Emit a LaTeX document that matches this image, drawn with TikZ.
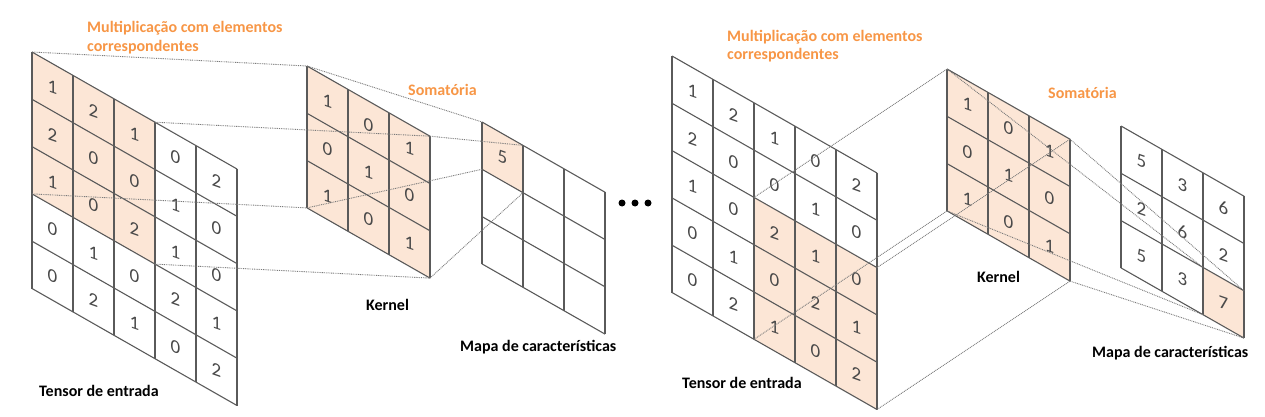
\documentclass[tikz,border=0pt]{standalone}
\usepackage{fontspec}
\setmainfont{Carlito}
\usetikzlibrary{calc}
\definecolor{hl}{HTML}{FCE6D6}
\definecolor{gridc}{HTML}{5A5A5A}
\definecolor{orangelab}{HTML}{F79646}
\definecolor{dotc}{HTML}{7A7A7A}
\definecolor{digc}{HTML}{4A4A4A}
\newcommand{\mkgrid}[4]{%
  \foreach \i in {0,...,#4}{%
    \foreach \j in {0,...,#4}{%
      \coordinate (#1-\i-\j) at ({#2+41*\j},{#3+23.4*\j+47.3*\i});
    }%
  }%
}
\newcommand{\drawgrid}[2]{%
  \foreach \i in {0,...,#2}{\draw[gridline] (#1-\i-0) -- (#1-\i-#2);}%
  \foreach \j in {0,...,#2}{\draw[gridline] (#1-0-\j) -- (#1-#2-\j);}%
}
\newcommand{\putrow}[3]{%
  \foreach \v [count=\jj from 0] in {#3}{%
    \pgfmathtruncatemacro\ia{#2+1}%
    \pgfmathtruncatemacro\ja{\jj+1}%
    \node[digit] (#1v-#2-\jj) at ($(#1-#2-\jj)!0.5!(#1-\ia-\ja)$) {\v};
  }%
}
\begin{document}
\begin{tikzpicture}[x=1pt,y=-1pt,
  gridline/.style={draw=gridc, line width=1.1pt},
  digit/.style={font=\fontsize{19}{19}\selectfont, text=digc, inner sep=0pt, yslant=-0.35, transform shape},
  lab/.style={font=\bfseries\fontsize{16}{16}\selectfont, anchor=west, inner sep=0pt},
  orlab/.style={lab, text=orangelab},
  con/.style={draw=dotc, line width=0.9pt, dash pattern=on 0.9pt off 0.9pt},
  dotmark/.style={circle, fill=black, inner sep=0pt, minimum size=7pt}]
\useasboundingbox (0,0) rectangle (1265,417);
% grids coordinates
\mkgrid{tL}{32}{52}{5}
\mkgrid{kL}{307}{66}{3}
\mkgrid{fL}{482}{122}{3}
\mkgrid{tR}{672}{56}{5}
\mkgrid{kR}{947}{69}{3}
\mkgrid{fR}{1121}{126}{3}
% highlights
\fill[hl] (tL-0-0) -- (tL-0-3) -- (tL-3-3) -- (tL-3-0) -- cycle;
\fill[hl] (kL-0-0) -- (kL-0-3) -- (kL-3-3) -- (kL-3-0) -- cycle;
\fill[hl] (fL-0-0) -- (fL-0-1) -- (fL-1-1) -- (fL-1-0) -- cycle;
\fill[hl] (tR-2-2) -- (tR-2-5) -- (tR-5-5) -- (tR-5-2) -- cycle;
\fill[hl] (kR-0-0) -- (kR-0-3) -- (kR-3-3) -- (kR-3-0) -- cycle;
\fill[hl] (fR-2-2) -- (fR-2-3) -- (fR-3-3) -- (fR-3-2) -- cycle;
% grid lines
\drawgrid{tL}{5}
\drawgrid{kL}{3}
\drawgrid{fL}{3}
\drawgrid{tR}{5}
\drawgrid{kR}{3}
\drawgrid{fR}{3}
% digits
\putrow{tL}{0}{1,2,1,0,2}
\putrow{tL}{1}{2,0,0,1,0}
\putrow{tL}{2}{1,0,2,1,0}
\putrow{tL}{3}{0,1,0,2,1}
\putrow{tL}{4}{0,2,1,0,2}
\putrow{kL}{0}{1,0,1}
\putrow{kL}{1}{0,1,0}
\putrow{kL}{2}{1,0,1}
\node[digit] (fLv-0-0) at ($(fL-0-0)!0.5!(fL-1-1)$) {5};
\putrow{tR}{0}{1,2,1,0,2}
\putrow{tR}{1}{2,0,0,1,0}
\putrow{tR}{2}{1,0,2,1,0}
\putrow{tR}{3}{0,1,0,2,1}
\putrow{tR}{4}{0,2,1,0,2}
\putrow{kR}{0}{1,0,1}
\putrow{kR}{1}{0,1,0}
\putrow{kR}{2}{1,0,1}
\putrow{fR}{0}{5,3,6}
\putrow{fR}{1}{2,6,2}
\putrow{fR}{2}{5,3,7}
% connectors left
\draw[con] (tL-0-0) -- (kL-0-0);
\draw[con] (tL-0-3) -- (kL-0-3);
\draw[con] (tL-3-0) -- (kL-3-0);
\draw[con] (tL-3-3) -- (kL-3-3);
\draw[con] (kL-0-0) -- (fL-0-0);
\draw[con] (kL-0-3) -- (fL-0-1);
\draw[con] (kL-3-0) -- (fL-1-0);
\draw[con] (kL-3-3) -- (fL-1-1);
% connectors right
\draw[con] (tR-2-2) -- (kR-0-0);
\draw[con] (tR-2-5) -- (kR-0-3);
\draw[con] (tR-5-2) -- (kR-3-0);
\draw[con] (tR-5-5) -- (kR-3-3);
\draw[con] (kR-0-0) -- (fR-2-2);
\draw[con] (kR-0-3) -- (fR-2-3);
\draw[con] (kR-3-0) -- (fR-3-2);
\draw[con] (kR-3-3) -- (fR-3-3);
% ellipsis
\node[dotmark] (e1) at (622,203) {};
\node[dotmark] (e2) at (635,203) {};
\node[dotmark] (e3) at (648,203) {};
% labels
\node[orlab] (mL1) at (87,28) {Multiplicação com elementos};
\node[orlab] (mL2) at (87,47) {correspondentes};
\node[orlab] (sL) at (408,90) {Somatória};
\node[lab] (tLlab) at (39,391) {Tensor de entrada};
\node[lab] (kLlab) at (366,305) {Kernel};
\node[lab] (fLlab) at (460,347) {Mapa de características};
\node[orlab] (mR1) at (727,37) {Multiplicação com elementos};
\node[orlab] (mR2) at (727,55) {correspondentes};
\node[orlab] (sR) at (1048,93) {Somatória};
\node[lab] (tRlab) at (682,383) {Tensor de entrada};
\node[lab] (kRlab) at (977,277) {Kernel};
\node[lab] (fRlab) at (1092,353) {Mapa de características};
\end{tikzpicture}
\end{document}
